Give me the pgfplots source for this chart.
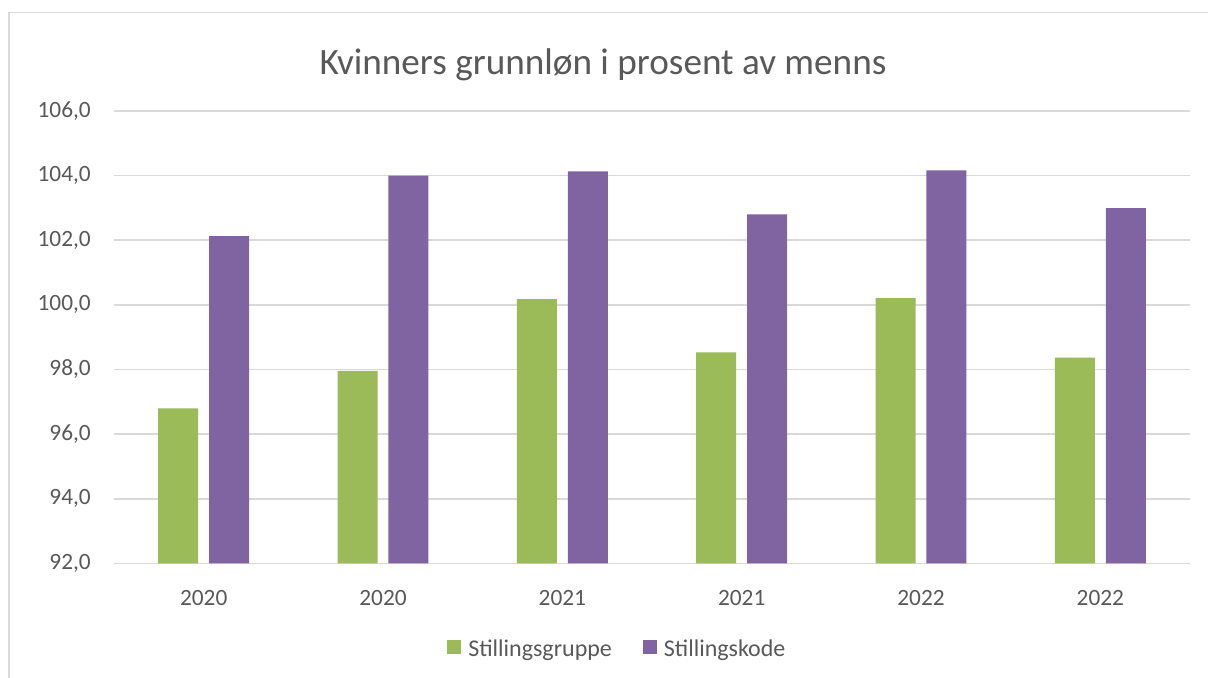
\documentclass[border=0pt]{standalone}
\usepackage{pgfplots}
\pgfplotsset{compat=1.18}
\usepackage{fontspec}
\setmainfont{Carlito}
\definecolor{cgreen}{HTML}{9BBB59}
\definecolor{cpurple}{HTML}{8064A2}
\definecolor{ctext}{HTML}{595959}
\definecolor{cgrid}{HTML}{D9D9D9}
\begin{document}
\begin{tikzpicture}
\useasboundingbox (0,0) rectangle (906pt,508.5pt);
\fill[white] (0,0) rectangle (906pt,508.5pt);
\draw[cgrid, line width=1.1pt] (6.75pt,0pt) -- (6.75pt,499pt) -- (906pt,499pt);
\node[anchor=base, text=ctext, font=\fontsize{27.9}{33}\selectfont] at (452.25pt,452.25pt) {Kvinners grunnløn i prosent av menns};
\begin{axis}[
  at={(85.5pt,85.9pt)}, anchor=south west,
  scale only axis, width=807pt, height=339.4pt,
  xmin=-0.5, xmax=5.5, ymin=92, ymax=106,
  ytick={92,94,...,106},
  xtick={0,...,5},
  xticklabels={2020,2020,2021,2021,2022,2022},
  ymajorgrids,
  grid style={cgrid, line width=1.1pt},
  axis line style={draw=none},
  major tick length=0pt,
  ybar, bar width=30pt,
  /pgf/number format/.cd, fixed, fixed zerofill, precision=1, use comma, assume math mode=true,
  /pgfplots/.cd,
  ticklabel style={font=\fontsize{17.5}{21}\selectfont, text=ctext},
  yticklabel style={anchor=east, inner sep=0pt, xshift=-17.25pt},
  xticklabel style={anchor=north, inner sep=0pt, yshift=-19.9pt},
  legend style={draw=none, fill=none, at={(0.468,-0.19)}, anchor=center,
    font=\fontsize{18}{21}\selectfont, text=ctext,
    /tikz/every even column/.append style={column sep=21pt}},
  legend columns=2,
]
\addplot[fill=cgreen, draw=none, bar shift=-19.1pt,
  legend image code/.code={\fill[cgreen] (0pt,-3.5pt) rectangle (10.5pt,7pt); \path (14pt,0pt);}]
  coordinates {(0,96.8) (1,97.96) (2,100.18) (3,98.53) (4,100.21) (5,98.37)};
\addlegendentry{Stillingsgruppe}
\addplot[fill=cpurple, draw=none, bar shift=19.1pt,
  legend image code/.code={\fill[cpurple] (0pt,-3.5pt) rectangle (10.5pt,7pt); \path (14pt,0pt);}]
  coordinates {(0,102.13) (1,104.0) (2,104.13) (3,102.8) (4,104.16) (5,102.99)};
\addlegendentry{Stillingskode}
\end{axis}
\end{tikzpicture}
\end{document}
